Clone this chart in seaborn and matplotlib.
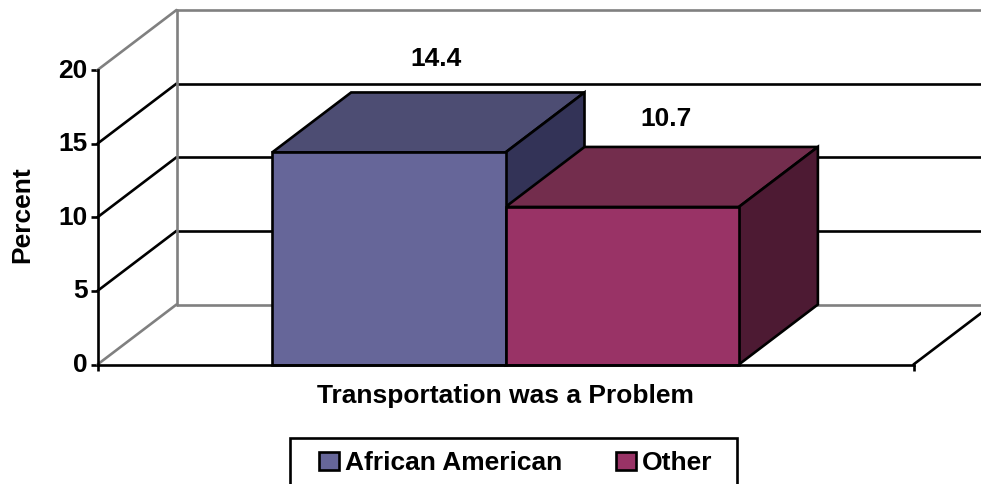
import matplotlib
matplotlib.use('Agg')
import matplotlib.pyplot as plt
from matplotlib.patches import Polygon, Rectangle
from matplotlib.transforms import ScaledTranslation
import pandas as pd
import seaborn as sns

category = ['Transportation was a Problem']
series = ['African American', 'Other']
values = [14.4, 10.7]
y_ticks = [0, 5, 10, 15, 20]
front_colors = ['#666699', '#993366']
top_colors = ['#4D4D73', '#732D4D']
side_colors = ['#333357', '#4D1A33']

W, H = 981, 484
left, right, top, bottom = 97.5, 913.5, 70, 364.5
depth_px = (79, 60)
LW = 1.9
FS = 19

sns.set_style('white')
plt.rcParams['font.family'] = ['Liberation Sans', 'DejaVu Sans']
plt.rcParams['font.weight'] = 'bold'

fig = plt.figure(figsize=(W / 100, H / 100), dpi=100)
ax = fig.add_axes([left / W, 1 - bottom / H, (right - left) / W, (bottom - top) / H])
ax.patch.set_alpha(0)

df = pd.DataFrame({'cat': category * len(series), 'series': series, 'value': values})
sns.barplot(data=df, x='cat', y='value', hue='series', palette=front_colors, saturation=1, width=0.572, gap=0,
			edgecolor='black', linewidth=LW, ax=ax, zorder=5)

ax.set_xlim(-0.5, 0.5)
ax.set_ylim(0, 20)

# depth of the fake 3d box, in data units
dx = depth_px[0] / (right - left)
dy = depth_px[1] / ((bottom - top) / 20)

# walls and floor
grey = '#808080'
for t in y_ticks:
	c = grey if t in (0, 20) else 'black'
	ax.plot([-0.5, -0.5 + dx], [t, t + dy], color=c, lw=LW, clip_on=False, zorder=1)
	ax.plot([-0.5 + dx, 0.5 + dx], [t + dy, t + dy], color=c, lw=LW, clip_on=False, zorder=1)
ax.plot([-0.5 + dx, -0.5 + dx], [dy, 20 + dy], color=grey, lw=LW, clip_on=False, zorder=2)
ax.plot([0.5, 0.5 + dx], [0, dy], color='black', lw=LW, clip_on=False, zorder=2)

# top and side faces of the bars
bars = [p for c in ax.containers for p in c]
for i, p in enumerate(bars):
	x0, x1, h = p.get_x(), p.get_x() + p.get_width(), p.get_height()
	ax.add_patch(Polygon([(x0, h), (x1, h), (x1 + dx, h + dy), (x0 + dx, h + dy)], closed=True,
						 fc=top_colors[i], ec='black', lw=LW, clip_on=False, zorder=3 + i))
	ax.add_patch(Polygon([(x1, 0), (x1 + dx, dy), (x1 + dx, h + dy), (x1, h)], closed=True,
						 fc=side_colors[i], ec='black', lw=LW, clip_on=False, zorder=3 + i))
	p.set_zorder(6)
	p.set_clip_on(False)

label_shift = [(47, 93), (44, 88)]
for i, p in enumerate(bars):
	ax.annotate(f'{values[i]:.1f}', (p.get_x() + p.get_width() / 2, p.get_height()),
				xytext=label_shift[i], textcoords='offset pixels', ha='center', va='center',
				fontsize=FS, fontweight='bold', color='black', zorder=7)

sns.despine(ax=ax)
for s in ('left', 'bottom'):
	ax.spines[s].set_linewidth(LW)
	ax.spines[s].set_color('black')
	ax.spines[s].set_zorder(8)
ax.set_xticks([-0.5, 0.5], ['', ''])
ax.set_yticks(y_ticks)
ax.tick_params(axis='x', length=4, width=LW, color='black', bottom=True)
ax.tick_params(axis='y', length=5, width=LW, color='black', left=True, labelsize=FS, labelcolor='black', pad=2)
ax.set_xlabel(category[0], fontsize=FS, fontweight='bold', color='black')
ax.xaxis.set_label_coords(0.5, -0.065)
ax.set_ylabel('Percent', fontsize=FS, fontweight='bold', color='black')
ax.yaxis.set_label_coords((22 - left) / (right - left), 0.51)
ax.yaxis.label.set_va('center')
# tick labels sit a little high in the reference
nudge = ScaledTranslation(0, 2 / 100, fig.dpi_scale_trans)
for t in ax.get_yticklabels():
	t.set_fontweight('bold')
	t.set_transform(t.get_transform() + nudge)

# legend frame runs off the bottom of the picture
fig.add_artist(Rectangle((290 / W, -0.02), 447 / W, 1 - 438 / H + 0.02, transform=fig.transFigure,
						 fill=False, ec='black', lw=LW))
handles = list(ax.containers)
ax.legend(handles, series, ncol=2, loc='upper left', bbox_to_anchor=(319 / W, 1 - 451 / H),
		  bbox_transform=fig.transFigure, frameon=False, handlelength=0.76, handleheight=0.7,
		  handletextpad=0.23, columnspacing=2.03, borderaxespad=0, borderpad=0,
		  labelcolor='black', prop={'weight': 'bold', 'size': FS})

fig.savefig('out.png', dpi=100, facecolor='white')
plt.close()
